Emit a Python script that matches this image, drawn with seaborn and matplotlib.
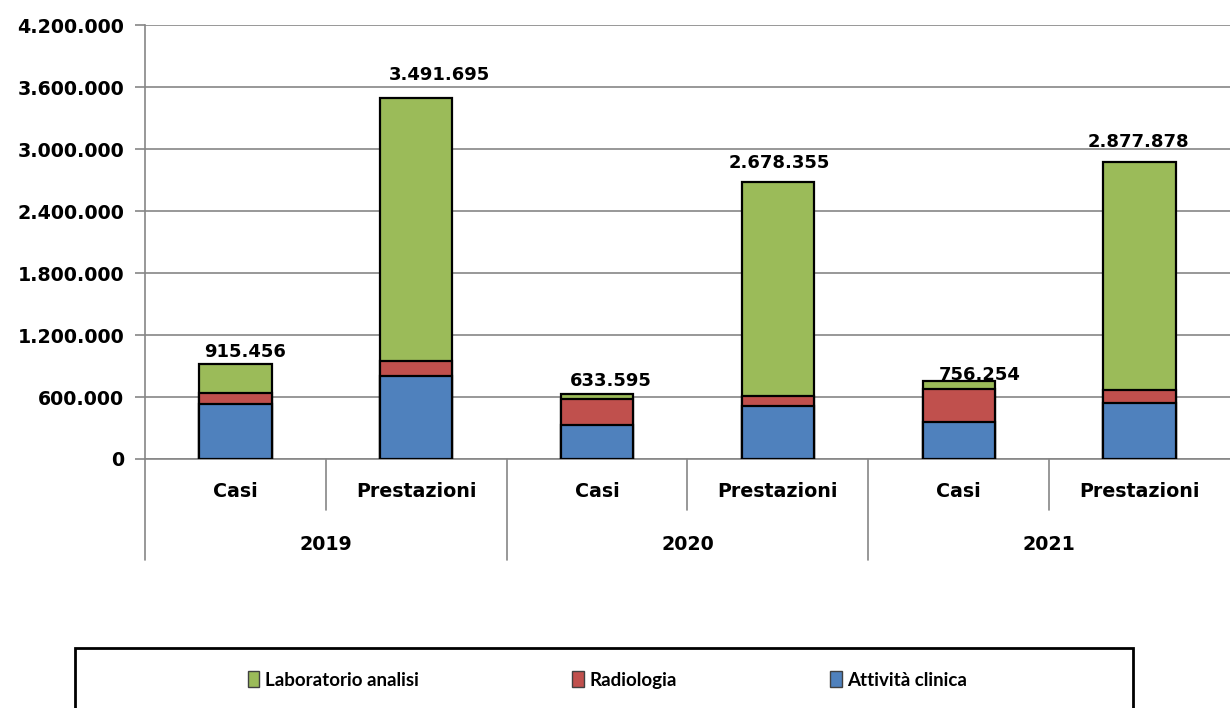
import numpy as np
import pandas as pd
import matplotlib
matplotlib.use("Agg")
import matplotlib.pyplot as plt
from matplotlib.patches import Rectangle, Patch
import seaborn as sns

# data
YEARS = ["2019", "2020", "2021"]
TIPI = ["Casi", "Prestazioni"]
attivita_clinica = [532000, 803000, 332000, 510000, 358000, 545000]
radiologia = [104000, 148000, 246000, 97000, 322000, 123000]
laboratorio = [279456, 2540695, 55595, 2071355, 76254, 2209878]
totali = [915456, 3491695, 633595, 2678355, 756254, 2877878]

COL_BLUE = "#4F81BD"
COL_RED = "#C0504D"
COL_GREEN = "#9BBB59"
GRID = "#868686"

keys = [f"{y} {t}" for y in YEARS for t in TIPI]
df = pd.DataFrame({
    "key": keys,
    "clinica": attivita_clinica,
    "radiologia": radiologia,
    "laboratorio": laboratorio,
})
df["cum_red"] = df["clinica"] + df["radiologia"]
df["cum_green"] = df["cum_red"] + df["laboratorio"]

sns.set_style("white")
plt.rcParams["font.family"] = ["DejaVu Sans"]
plt.rcParams["text.color"] = "black"
plt.rcParams["ytick.labelcolor"] = "black"

fig = plt.figure(figsize=(12.3, 7.08), dpi=100)
ax = fig.add_axes([145 / 1230, 1 - 459 / 708, 1085 / 1230, 434 / 708])

# stacked bars: draw cumulative totals from the top layer down
for col, color in [("cum_green", COL_GREEN), ("cum_red", COL_RED), ("clinica", COL_BLUE)]:
    sns.barplot(data=df, x="key", y=col, order=keys, color=color, width=0.4,
                edgecolor="black", linewidth=1.6, saturation=1, ax=ax, zorder=3)

ax.set_xlim(-0.5, 5.5)
ax.set_ylim(0, 4200000)
ticks = np.arange(0, 4200001, 600000)
ax.set_yticks(ticks)
ax.set_yticklabels([f"{int(v):,}".replace(",", ".") for v in ticks],
                   fontsize=13.7, fontweight="bold", color="black")
ax.yaxis.grid(True, color=GRID, linewidth=1.2, zorder=0)
ax.tick_params(axis="y", length=7, color=GRID, width=1.2, pad=8, left=True)
ax.set_xticks([])
ax.set_xlabel("")
ax.set_ylabel("")
for s in ["top", "right"]:
    ax.spines[s].set_visible(False)
for s in ["left", "bottom"]:
    ax.spines[s].set_color(GRID)
    ax.spines[s].set_linewidth(1.2)

# total labels above bars (hand-placed as in the original)
label_dx = [7, 17, 10, 1, 15, -1]
label_dy = [9, 17, 9, 14, 4, 14]
for i, tot in enumerate(totali):
    ax.annotate(f"{tot:,}".replace(",", "."), xy=(i, tot),
                xytext=(label_dx[i], label_dy[i]), textcoords="offset points",
                ha="center", va="center", fontsize=13, fontweight="bold",
                color="black")

# two-level category axis
trans = ax.get_xaxis_transform()
for i, k in enumerate(keys):
    ax.text(i, -0.076, TIPI[i % 2], transform=trans, ha="center", va="center",
            fontsize=13.7, fontweight="bold", color="black")
for j, y in enumerate(YEARS):
    ax.text(2 * j + 0.5, -0.198, y, transform=trans, ha="center", va="center",
            fontsize=13.7, fontweight="bold", color="black")
for xb in np.arange(-0.5, 5.0, 1.0):
    long_line = int(round(xb + 0.5)) % 2 == 0
    ax.plot([xb, xb], [0, -0.233 if long_line else -0.1175], transform=trans,
            color=GRID, linewidth=1.2, clip_on=False)

# legend in a framed box at the bottom
fig.patches.append(Rectangle((75 / 1230, -0.02), (1133 - 75) / 1230, 0.02 + 1 - 648 / 708,
                             transform=fig.transFigure, fill=False,
                             edgecolor="black", linewidth=2))
handles = [Patch(facecolor=COL_GREEN, edgecolor="#404040", label="Laboratorio analisi"),
           Patch(facecolor=COL_RED, edgecolor="#404040", label="Radiologia"),
           Patch(facecolor=COL_BLUE, edgecolor="#404040", label="Attività clinica")]
fig.legend(handles=handles, loc="center", bbox_to_anchor=(0.494, 1 - 680 / 708),
           ncol=3, frameon=False, handlelength=0.6, handleheight=0.9,
           handletextpad=0.3, columnspacing=8.2,
           prop={"family": "Lato", "size": 13.5, "weight": "bold"})

fig.savefig("out.png", dpi=100)
plt.close(fig)
